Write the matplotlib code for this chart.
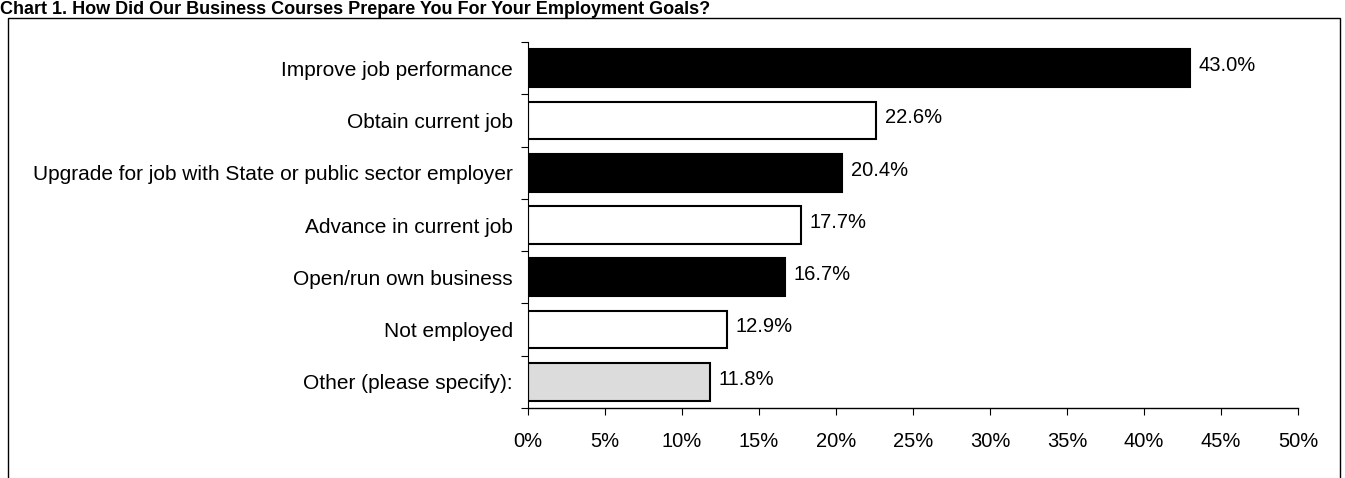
import matplotlib.pyplot as plt
from matplotlib.patches import Rectangle
import numpy as np

plt.rcParams['font.family'] = ['Liberation Sans', 'DejaVu Sans']

# data (top to bottom as in the chart)
categories = ["Improve job performance", "Obtain current job",
              "Upgrade for job with State or public sector employer",
              "Advance in current job", "Open/run own business",
              "Not employed", "Other (please specify):"]
values = [43.0, 22.6, 20.4, 17.7, 16.7, 12.9, 11.8]
colours = ["black", "white", "black", "white", "black", "white", "#dcdcdc"]
xticks = [0, 5, 10, 15, 20, 25, 30, 35, 40, 45, 50]

fig = plt.figure(figsize=(13.45, 4.78), dpi=100)

# outer frame around the chart
top = 1 - 18/478
fig.patches.append(Rectangle((8/1345, -0.05), (1340-8)/1345, top + 0.05,
                             transform=fig.transFigure, fill=False,
                             edgecolor="black", linewidth=1.0))
fig.text(0.0, 1 - 1/478, "Chart 1. How Did Our Business Courses Prepare You For Your Employment Goals?",
         fontsize=13, fontweight="bold", ha="left", va="top")

ax = fig.add_axes([528/1345, 1 - 408/478, (1298-528)/1345, (408-42)/478])

y = np.arange(len(categories))
ax.barh(y, values, height=0.72, color=colours, edgecolor="black", linewidth=1.5)
for yi, v in zip(y, values):
    ax.text(v + 0.55, yi - 0.05, f"{v:.1f}%", va="center", ha="left", fontsize=14.5)

ax.set_ylim(len(categories) - 0.5, -0.5)
ax.set_xlim(0, 50)
ax.set_yticks(y)
ax.set_yticklabels(categories, fontsize=15)
ax.set_yticks(np.arange(-0.5, len(categories)), minor=True)
ax.tick_params(axis="y", which="major", length=0, pad=11)
ax.tick_params(axis="y", which="minor", length=5, direction="out", width=0.8)
ax.set_xticks(xticks)
ax.set_xticklabels([f"{t}%" for t in xticks], fontsize=14.5)
ax.tick_params(axis="x", length=5, direction="out", pad=12, width=0.8)

ax.spines["top"].set_visible(False)
ax.spines["right"].set_visible(False)
ax.spines["left"].set_linewidth(0.8)
ax.spines["bottom"].set_linewidth(1.0)

fig.savefig("out.png", dpi=100)
